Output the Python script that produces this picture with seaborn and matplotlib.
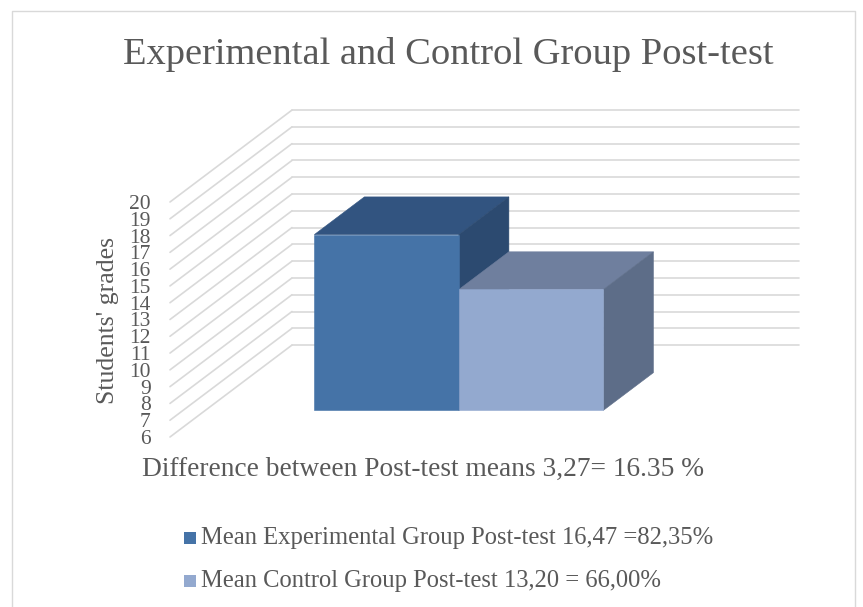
import matplotlib
matplotlib.use("Agg")
import matplotlib.pyplot as plt
from matplotlib.patches import Polygon, Rectangle
import pandas as pd
import seaborn as sns

TITLE = "Experimental and Control Group Post-test"
YLABEL = "Students' grades"
NOTE = "Difference between Post-test means 3,27= 16.35 %"
groups = ["Mean Experimental Group Post-test 16,47 =82,35%",
          "Mean Control Group Post-test 13,20 = 66,00%"]
means = [16.47, 13.20]
grade_ticks = list(range(6, 21))

front_colors = ["#4573A7", "#93A9CF"]
top_colors = ["#325480", "#6F7F9E"]
side_colors = ["#2C4A70", "#5D6D88"]
grid_color = "#D9D9D9"
text_color = "#595959"

W, H = 863, 607
sns.set_theme(style="white")
plt.rcParams["font.family"] = ["Liberation Serif", "DejaVu Serif"]

fig = plt.figure(figsize=(W / 100, H / 100), dpi=100)
# front plane of the fake 3d box, in reference pixels
ax = fig.add_axes([170 / W, 1 - 437 / H, 507 / W, 235 / H])
ax.patch.set_alpha(0)

df = pd.DataFrame({"group": groups, "mean": means})
sns.barplot(data=df, x="group", y="mean", hue="group", palette=front_colors,
            width=1.0, legend=False, saturation=1, ax=ax, zorder=3)
y_floor = grade_ticks[0]
ax.set_xlim(-1.254, 2.254)
ax.set_ylim(y_floor, grade_ticks[-1])

# depth of the box in data units
box_dx = 0.844
box_dy = 5.476
bar_start = 0.29
bar_end = 0.70

# walls: grid lines going back, then across the back wall
for t in grade_ticks:
    x0, x1 = ax.get_xlim()
    ax.plot([x0, x0 + box_dx], [t, t + box_dy], color=grid_color, lw=1.2,
            clip_on=False, zorder=1)
    ax.plot([x0 + box_dx, x1 + box_dx], [t + box_dy, t + box_dy],
            color=grid_color, lw=1.2, clip_on=False, zorder=1)

# push the seaborn bars back into the box, then add top and side faces
bars = list(ax.patches)
d = bar_end - bar_start
for i, bar in enumerate(bars):
    # bars start at the axis floor, not at zero
    bar.set_height(bar.get_height() - y_floor)
    bar.set_x(bar.get_x() + bar_start * box_dx)
    bar.set_y(y_floor + bar_start * box_dy)
    bar.set_clip_on(False)
    bar.set_edgecolor(front_colors[i])
    bar.set_linewidth(0.4)
    left = bar.get_x()
    right = left + bar.get_width()
    low = bar.get_y()
    top = low + bar.get_height()
    ddx, ddy = d * box_dx, d * box_dy
    ax.add_patch(Polygon([(left, top), (right, top), (right + ddx, top + ddy), (left + ddx, top + ddy)],
                         facecolor=top_colors[i], edgecolor=top_colors[i], lw=0.4, clip_on=False, zorder=2))
    ax.add_patch(Polygon([(right, low), (right + ddx, low + ddy), (right + ddx, top + ddy), (right, top)],
                         facecolor=side_colors[i], edgecolor=side_colors[i], lw=0.4, clip_on=False, zorder=2))

ax.set_xticks([])
ax.set_yticks(grade_ticks)
ax.tick_params(axis="y", length=0, pad=14, labelsize=15.5, labelcolor=text_color)
ax.set_xlabel("")
ax.set_ylabel("")
sns.despine(ax=ax, left=True, bottom=True)

fig.text(108 / W, 1 - 321 / H, YLABEL, rotation=90, ha="center", va="center",
         fontsize=18.5, color=text_color)
fig.text(448 / W, 1 - 55 / H, TITLE, ha="center", va="center", fontsize=27.7, color=text_color)
fig.text(423 / W, 1 - 469 / H, NOTE, ha="center", va="center", fontsize=19.7, color=text_color)

# legend by hand so the rows sit where the reference has them
for color, label, ypx in zip(front_colors, groups, [538, 581]):
    fig.add_artist(Rectangle((184 / W, 1 - (ypx + 6) / H), 12 / W, 12 / H, facecolor=color,
                             edgecolor="none", transform=fig.transFigure))
    fig.text(201 / W, 1 - ypx / H, label, ha="left", va="center", fontsize=17.7, color=text_color)

# chart frame, open at the bottom like the crop
fig.add_artist(plt.Line2D([12 / W, 12 / W, 855 / W, 855 / W], [0, 1 - 11 / H, 1 - 11 / H, 0],
                          color=grid_color, lw=1, transform=fig.transFigure))

fig.savefig("out.png", dpi=100)
